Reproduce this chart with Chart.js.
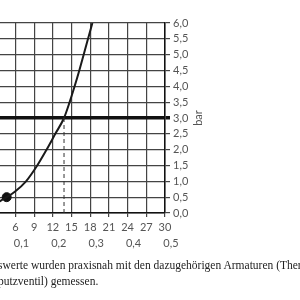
<!DOCTYPE html>
<html>
<head>
<meta charset="utf-8">
<script src="https://cdn.jsdelivr.net/npm/chart.js@4/dist/chart.umd.min.js"></script>
<style>
  html, body { margin: 0; padding: 0; background: #fff; }
  body { width: 300px; height: 300px; overflow: hidden; position: relative; }
  #wrap { position: absolute; left: -40px; top: 0; width: 340px; height: 300px; }
  .note { position: absolute; left: -2px; white-space: nowrap; font: 11.5px "Liberation Serif", serif; color: #222; }
  .note .pre { position: absolute; right: 100%; }
</style>
</head>
<body>
<div id="wrap"><canvas id="graphCanvas" width="340" height="300"></canvas></div>
<div class="note" style="top:259px"><span class="pre">Die Durchflus</span>swerte wurden praxisnah mit den dazugehörigen Armaturen (Thermostat,</div>
<div class="note" style="top:275px"><span class="pre">Unter</span>putzventil) gemessen.</div>
<script>
// flow in l/min, pressure in bar
const flow = [3.3, 4.6, 5.9, 7.7, 9.5, 11.0, 12.4, 13.8, 14.7, 15.5, 16.25, 16.95, 17.65, 18.35];
const pressure = [0.35, 0.5, 0.67, 1.0, 1.5, 2.0, 2.5, 3.0, 3.5, 4.0, 4.5, 5.0, 5.5, 6.0];
const markFlow = [4.6];
const markPressure = [0.5];
const refFlow = 13.8;
const refPressure = 3.0;
const flowTicks = [0, 3, 6, 9, 12, 15, 18, 21, 24, 27, 30];
const secondTicks = [6, 12, 18, 24, 30];
const pressureTicks = [0, 0.5, 1, 1.5, 2, 2.5, 3, 3.5, 4, 4.5, 5, 5.5, 6];

const comma = v => v.toFixed(1).replace('.', ',');
const tickFont = { family: 'Lato', size: 11 };

let curve = flow.map((q, i) => ({ x: q, y: pressure[i] }));
let mark = markFlow.map((q, i) => ({ x: q, y: markPressure[i] }));

const barTitle = {
    id: 'barTitle',
    afterDraw(chart) {
        const ctx = chart.ctx;
        const a = chart.chartArea;
        ctx.save();
        ctx.translate(a.right + 33, (a.top + a.bottom) / 2);
        ctx.rotate(-Math.PI / 2);
        ctx.font = '11px Lato';
        ctx.fillStyle = '#555';
        ctx.textAlign = 'center';
        ctx.textBaseline = 'middle';
        ctx.fillText('bar', 0, 0);
        ctx.restore();
    }
};

new Chart(document.getElementById('graphCanvas'), {
    type: 'scatter',
    data: {
        datasets: [
            {
                data: [{ x: refFlow, y: refPressure }, { x: refFlow, y: 0 }],
                showLine: true,
                borderColor: '#333',
                borderWidth: 1,
                borderDash: [4, 3],
                pointRadius: 0
            },
            {
                data: curve,
                showLine: true,
                cubicInterpolationMode: 'monotone',
                borderColor: '#1a1a1a',
                borderWidth: 2,
                pointRadius: 0
            },
            {
                data: mark,
                pointRadius: 4.5,
                backgroundColor: '#111',
                borderColor: '#111'
            }
        ]
    },
    options: {
        responsive: false,
        animation: false,
        layout: { padding: { left: 18, right: 85, top: 23, bottom: 47 } },
        plugins: { legend: { display: false }, tooltip: { enabled: false } },
        scales: {
            x: {
                type: 'linear',
                position: 'bottom',
                min: 0,
                max: 30,
                afterBuildTicks: s => { s.ticks = flowTicks.map(v => ({ value: v })); },
                afterFit: s => { s.height = 24; },
                ticks: { color: '#555', font: tickFont, padding: 4, maxRotation: 0, autoSkip: false },
                grid: { color: '#444', lineWidth: 1.2, tickLength: 4 },
                border: { color: '#111', width: 1.5 }
            },
            x2: {
                type: 'linear',
                position: 'bottom',
                min: 0,
                max: 30,
                afterBuildTicks: s => { s.ticks = secondTicks.map(v => ({ value: v })); },
                afterFit: s => { s.height = 16; },
                ticks: {
                    color: '#555', font: tickFont, padding: 0, labelOffset: 6, maxRotation: 0, autoSkip: false,
                    callback: v => comma(v / 60)
                },
                grid: { display: false, drawTicks: false },
                border: { display: false }
            },
            y: {
                position: 'right',
                min: 0,
                max: 6,
                afterBuildTicks: s => { s.ticks = pressureTicks.map(v => ({ value: v })); },
                afterFit: s => { s.width = 50; },
                ticks: { color: '#555', font: tickFont, padding: 3, autoSkip: false, callback: v => comma(v) },
                grid: {
                    color: c => c.tick && c.tick.value === 3 ? '#111' : '#444',
                    lineWidth: c => c.tick && c.tick.value === 3 ? 3.5 : 1.2,
                    tickLength: 5
                },
                border: { color: '#111', width: 1.5 }
            }
        }
    },
    plugins: [barTitle]
});
</script>
</body>
</html>
